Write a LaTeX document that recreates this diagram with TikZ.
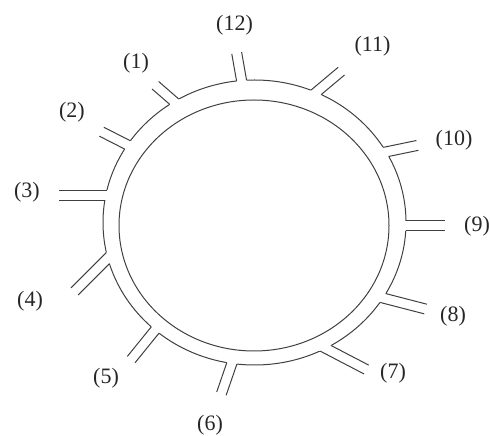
\documentclass[tikz,border=0pt]{standalone}
\usepackage{fontspec}
\setmainfont{Liberation Serif}
\usetikzlibrary{calc}
\tikzset{
  wall/.style={line width=1pt, black!75},
  portlabel/.style={font=\fontsize{22}{24}\selectfont, text=black!85, inner sep=0pt},
}
\begin{document}
\begin{tikzpicture}[x=1pt, y=1pt]
  \useasboundingbox (0,0) rectangle (490,436);
  \coordinate (oc) at (254.5,213.5);
  \coordinate (ic) at (254,210.5);

  % ring
  \draw[wall] (oc) ellipse [x radius=151.5pt, y radius=142.5pt];
  \draw[wall] (ic) ellipse [x radius=135pt, y radius=125.5pt];

  % ports: number / angle on the ring / direction / length
  \foreach \n/\t/\d/\l in {1/122/139/25, 2/147/153/29, 3/169/180/47, 4/194.5/225/47,
      5/229/231/38, 6/261.4/251/32, 7/298/332.5/46, 8/328/345.5/44,
      9/358.7/0/39, 10/29.7/11.7/32, 11/66/40/33, 12/94.9/100/28} {
    \coordinate (b\n) at ($(oc)+(\t:151.5pt and 142.5pt)$);
    \coordinate (s\n a) at ($(b\n)+(\d+90:5)+(\d:-6)$);
    \coordinate (s\n b) at ($(b\n)+(\d-90:5)+(\d:-6)$);
    \coordinate (e\n a) at ($(b\n)+(\d+90:5)+(\d:\l)$);
    \coordinate (e\n b) at ($(b\n)+(\d-90:5)+(\d:\l)$);
    % open the ring between the two walls
    \fill[white] (s\n a) -- ($(b\n)+(\d+90:5)+(\d:8)$)
      -- ($(b\n)+(\d-90:5)+(\d:8)$) -- (s\n b) -- cycle;
  }

  % port walls, outside the ring only
  \begin{scope}[even odd rule]
    \clip (0,0) rectangle (490,436)
      (oc) ellipse [x radius=151.5pt, y radius=142.5pt];
    \foreach \n in {1,...,12} {
      \draw[wall] (s\n a) -- (e\n a);
      \draw[wall] (s\n b) -- (e\n b);
    }
  \end{scope}

  % labels
  \foreach \n/\x/\y in {1/136/373, 2/72/324, 3/27/243.5, 4/30/135, 5/106/58, 6/210/11,
      7/393/63, 8/453/120, 9/477/210, 10/454/296, 11/372.5/390, 12/234.5/411}
    \node[portlabel] (l\n) at (\x,\y) {(\n)};
\end{tikzpicture}
\end{document}
